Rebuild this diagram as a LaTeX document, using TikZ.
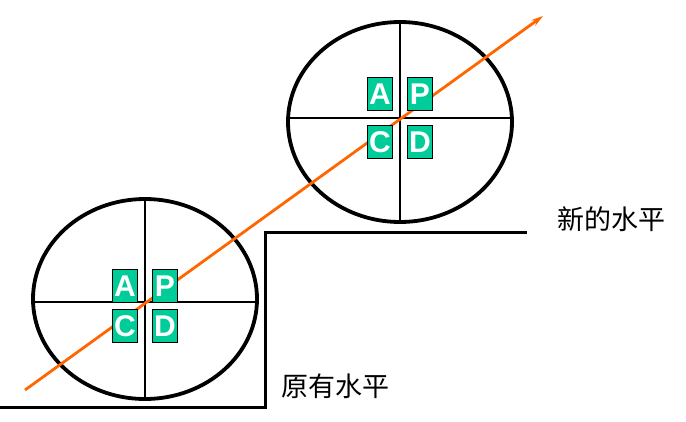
\documentclass[tikz,border=0pt]{standalone}
\usepackage{fontspec}
\setsansfont{Liberation Sans}
\newfontfamily\cjk{Noto Sans CJK SC}
\usetikzlibrary{arrows.meta}
\definecolor{boxgreen}{RGB}{0,204,153}
\definecolor{rayorange}{RGB}{255,102,0}
\begin{document}
\begin{tikzpicture}[x=1pt,y=-1pt,
  rim/.style={line width=3.8pt},
  axis/.style={line width=1.3pt},
  letter/.style={draw=black,fill=boxgreen,text=white,inner sep=0pt,
    minimum width=25pt,minimum height=33pt,
    font=\sffamily\bfseries\fontsize{30}{30}\selectfont},
  level/.style={line width=3pt},
  caption/.style={font=\cjk\fontsize{27}{27}\selectfont}]
\useasboundingbox (0,0) rectangle (686,421);
% ground, old and new level
\coordinate (g0) at (0,407);
\coordinate (g1) at (265,407);
\coordinate (g2) at (265,232);
\coordinate (g3) at (527,232);
\draw[level] (g0) -- (g1) -- (g2) -- (g3);
\node[caption] (new) at (611,219) {新的水平};
\node[caption] (old) at (335,386) {原有水平};
% two wheels
\foreach \n/\cx/\cy/\ly in {lo/145/299/302, up/400/122/118} {
  \draw[rim] (\cx,\cy) ellipse [x radius=112pt, y radius=100pt];
  \coordinate (\n-n) at (\cx,\cy-100);
  \coordinate (\n-s) at (\cx,\cy+100);
  \coordinate (\n-w) at (\cx-111,\ly);
  \coordinate (\n-e) at (\cx+111,\ly);
  \draw[axis] (\n-n) -- (\n-s);
  \draw[axis] (\n-w) -- (\n-e);
}
% the line through both centres
\coordinate (ray-s) at (25,390);
\coordinate (ray-e) at (543,16);
\draw[rayorange,line width=2.8pt,-{Stealth[length=12pt,width=7pt]}] (ray-s) -- (ray-e);
% letters on top
\foreach \n/\cx/\gy/\dy in {lo/145/306/20, up/400/118/24} {
  \node[letter] (\n-a) at (\cx-20,\gy-\dy) {A};
  \node[letter] (\n-p) at (\cx+20,\gy-\dy) {P};
  \node[letter] (\n-c) at (\cx-20,\gy+\dy) {C};
  \node[letter] (\n-d) at (\cx+20,\gy+\dy) {D};
}
\end{tikzpicture}
\end{document}
